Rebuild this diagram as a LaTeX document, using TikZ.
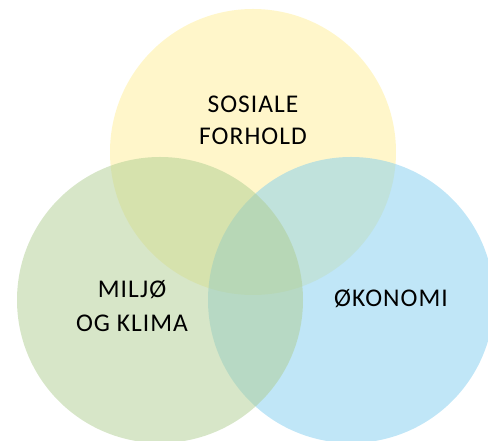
\documentclass[tikz,border=0pt]{standalone}
\usepackage{fontspec}
\setmainfont{Carlito}
\newfontfamily\lbl[LetterSpace=4]{Carlito}
\definecolor{cyellow}{RGB}{255,238,150}
\definecolor{cgreen}{RGB}{175,205,145}
\definecolor{cblue}{RGB}{129,205,239}
\begin{document}
\begin{tikzpicture}[x=1pt,y=1pt,
  venn/.style={fill opacity=0.5, draw=none},
  lab/.style={anchor=base, inner sep=0pt, font=\lbl\fontsize{25.5}{30}\selectfont, text=black}]
\useasboundingbox (0,0) rectangle (488,441);
\fill[venn, cyellow] (253,289) circle (143);
\fill[venn, cblue] (351,141) circle (143);
\fill[venn, cgreen] (160,141) circle (143);
\node[lab] (s1) at (253,328) {SOSIALE};
\node[lab] (s2) at (253,296) {FORHOLD};
\node[lab] (m1) at (132,143) {MILJØ};
\node[lab] (m2) at (132,109) {OG KLIMA};
\node[lab] (o1) at (391,134) {ØKONOMI};
\end{tikzpicture}
\end{document}
